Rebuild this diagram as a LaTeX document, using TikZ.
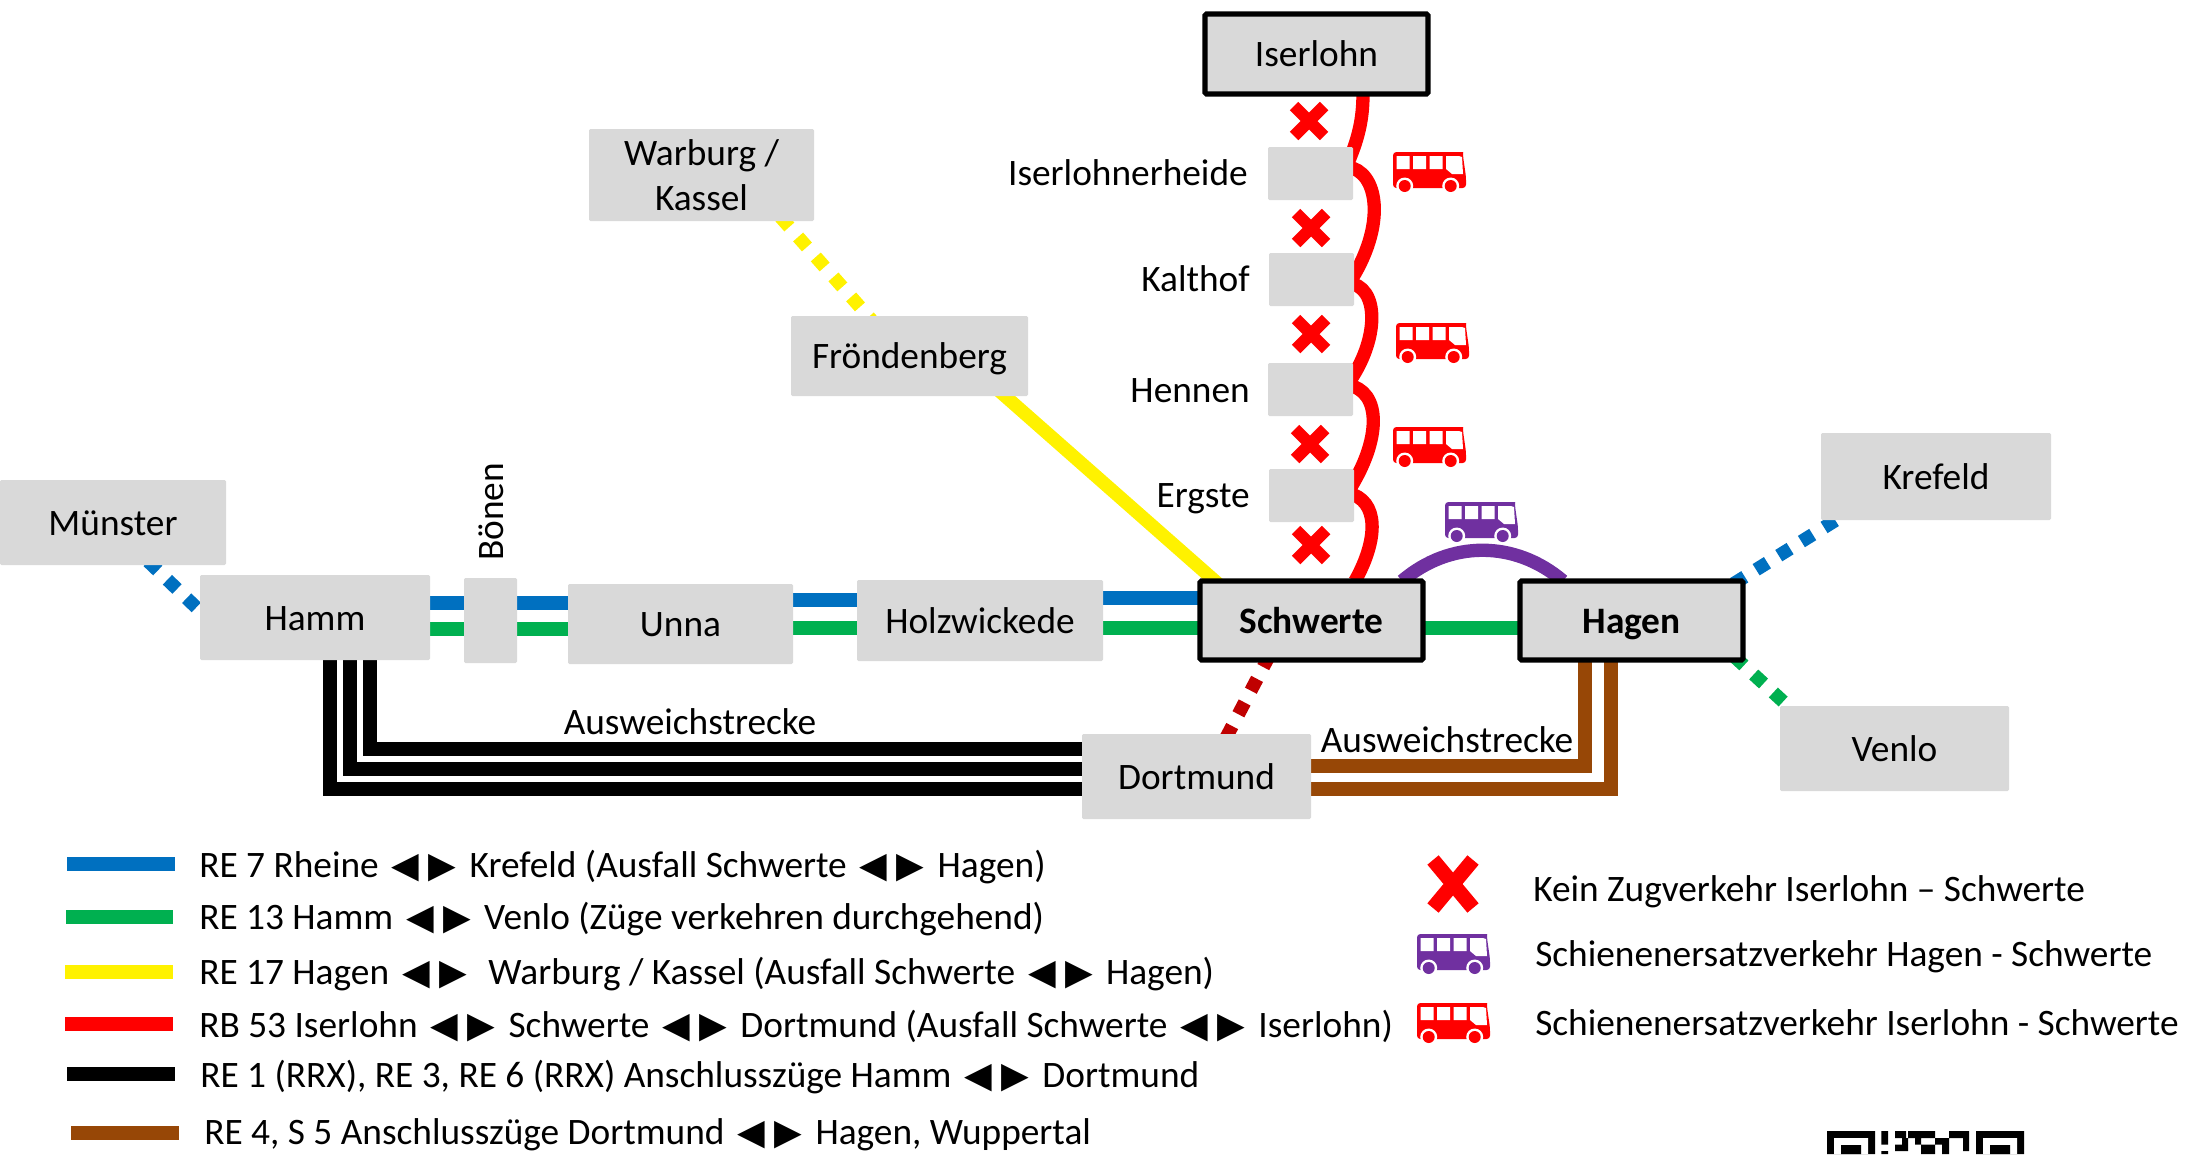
\documentclass[tikz,border=0pt]{standalone}
\usepackage{fontspec}
\setmainfont{Carlito}
\newfontfamily\symf{DejaVu Sans}
\pgfdeclarelayer{bg}
\pgfsetlayers{bg,main}
\definecolor{stgrey}{HTML}{D9D9D9}
\definecolor{lblue}{HTML}{0070C0}
\definecolor{lgreen}{HTML}{00B050}
\definecolor{lpurple}{HTML}{7030A0}
\definecolor{lbrown}{HTML}{974706}
\definecolor{ldred}{HTML}{C00000}
\newcommand{\fs}{\fontsize{28pt}{33.7pt}\selectfont}
\newcommand{\lr}{\hspace{3.5pt}{\symf\fontsize{27pt}{30pt}\selectfont\char"25C0\hspace{7pt}\char"25B6}\hspace{3.5pt}}
\newcommand{\stn}[7]{%
  \pgfmathsetmacro\stw{(#4-#2)*0.75}\pgfmathsetmacro\sth{(#5-#3)*0.75}%
  \node[#1,minimum width=\stw pt,minimum height=\sth pt] (#7) at ({(#2+#4)/2},{(#3+#5)/2}) {#6};}
\tikzset{
  plainbox/.style={fill=stgrey,rounded corners=1pt,inner sep=0pt,outer sep=0pt,align=center,font=\fs},
  box/.style={plainbox,text height=19pt,text depth=0pt},
  mainbox/.style={box,draw=black,line width=3.9pt,rounded corners=1.2pt},
  lab/.style={inner sep=0pt,font=\fs,text height=19pt,text depth=0pt},
  legend/.style={inner sep=0pt,anchor=base west,font=\fs},
  track/.style={line width=10pt},
  dotted track/.style={line width=10pt,dash pattern=on 10pt off 10pt,shorten <=-4pt,shorten >=-4pt},
  crossmark/.style={line width=9pt,color=red},
  pics/bus/.style={code={
    \fill[#1,rounded corners=2.5pt] (0,0) -- (67,0) .. controls (69,0) and (70,2) .. (70,4) -- (73,25) -- (73,36) -- (0,36) -- cycle;
    \fill[white] (3.5,4) rectangle (16.5,17) (20,4) rectangle (33,17) (36.5,4) rectangle (49.5,17);
    \fill[white] (53,4) -- (66,4) -- (69,5) -- (70,22) -- (59,22) -- (53,17) -- cycle;
    \fill[white] (11.7,34) circle[radius=8.5] (57.7,34) circle[radius=8.5];
    \fill[#1] (11.7,34) circle[radius=6] (57.7,34) circle[radius=6];
  }},
  pics/cross/.style={code={
    \draw[crossmark] (-15,-15) -- (15,15) (-15,15) -- (15,-15);
  }}
}
\begin{document}
\begin{tikzpicture}[x=0.75pt,y=-0.75pt]
\useasboundingbox (0,0) rectangle (2192,1154);

% stations
\stn{mainbox}{1205}{14}{1428}{94}{Iserlohn}{iser}
\stn{box}{1268}{147}{1353}{200}{}{ih}
\stn{box}{1269}{253}{1354}{306}{}{kh}
\stn{box}{1268}{363}{1353}{416}{}{he}
\stn{box}{1269}{469}{1354}{522}{}{er}
\stn{mainbox}{1200}{581}{1423}{660}{\textbf{Schwerte}}{sch}
\stn{mainbox}{1520}{581}{1743}{660}{\textbf{Hagen}}{hag}
\stn{box}{1821}{433}{2051}{520}{Krefeld}{kre}
\stn{box}{1780}{706}{2009}{791}{Venlo}{ven}
\stn{box}{1082}{734}{1311}{819}{Dortmund}{dor}
\stn{box}{200}{575}{430}{660}{Hamm}{ham}
\stn{box}{464}{578}{517}{663}{}{boe}
\stn{box}{568}{584}{793}{664}{Unna}{unn}
\stn{box}{857}{580}{1103}{661}{Holzwickede}{hol}
\stn{box}{791}{316}{1028}{396}{Fröndenberg}{fro}
\stn{plainbox}{589}{129}{814}{221}{\raisebox{-1pt}{Warburg /}\\\raisebox{-1pt}{Kassel}}{war}
\stn{box}{0}{480}{226}{565}{Münster}{mue}

% station labels
\node[lab,anchor=east] (lih) at (1248,173) {Iserlohnerheide};
\node[lab,anchor=east] (lkh) at (1250,279) {Kalthof};
\node[lab,anchor=east] (lhe) at (1250,390) {Hennen};
\node[lab,anchor=east] (ler) at (1250,495) {Ergste};
\node[lab,rotate=90] (lboe) at (491,512) {Bönen};
\node[lab] (aw1) at (690,722) {Ausweichstrecke};
\node[lab] (aw2) at (1447,740) {Ausweichstrecke};

% connectors
\begin{pgfonlayer}{bg}
\draw[track,lblue] (ham.east |- 0,603) -- (boe.west |- 0,603);
\draw[track,lblue] (boe.east |- 0,603) -- (unn.west |- 0,603);
\draw[track,lblue] (unn.east |- 0,600) -- (hol.west |- 0,600);
\draw[track,lblue] (hol.east |- 0,598) -- (sch.west |- 0,598);
\draw[track,lgreen] (ham.east |- 0,629) -- (boe.west |- 0,629);
\draw[track,lgreen] (boe.east |- 0,629) -- (unn.west |- 0,629);
\draw[track,lgreen] (unn.east |- 0,628) -- (hol.west |- 0,628);
\draw[track,lgreen] (hol.east |- 0,628) -- (sch.west |- 0,628);
\draw[track,lgreen] (sch.east |- 0,628) -- (hag.west |- 0,628);
\draw[track,black] (ham.south -| 330,0) |- (dor.west |- 0,789);
\draw[track,black] (ham.south -| 350,0) |- (dor.west |- 0,769);
\draw[track,black] (ham.south -| 370,0) |- (dor.west |- 0,749);
\draw[track,lbrown] (hag.south -| 1585,0) |- (dor.east |- 0,766);
\draw[track,lbrown] (hag.south -| 1611,0) |- (dor.east |- 0,789);
\draw[track,yellow,shorten <=-6pt,shorten >=-6pt] (fro.south -| 1005,0) -- (sch.north -| 1215,0);
\draw[dotted track,yellow] (war.south -| 784,0) -- (fro.north -| 868,0);
\draw[dotted track,lblue] (mue.south -| 152,0) -- (ham.west |- 0,611);
\draw[dotted track,lblue] (hag.north -| 1738,0) -- (kre.south -| 1836,0);
\draw[dotted track,lgreen] (hag.south -| 1738,0) -- (ven.north -| 1788,0);
\draw[dotted track,ldred] (sch.south -| 1267,0) -- (dor.north -| 1228,0);
\draw[track,lpurple] (sch.north -| 1402,0) .. controls (1450,540) and (1515,540) .. (hag.north -| 1563,0);
\draw[track,red] (iser.south -| 1363,0) .. controls (1363,120) and (1358,140) .. ([xshift=-4.5pt,yshift=6.4pt]ih.east);
\draw[track,red] ([xshift=-4.5pt,yshift=4.9pt]ih.east) .. controls (1378,170) and (1388,225) .. ([xshift=-4.5pt,yshift=-4pt]kh.east);
\draw[track,red] ([xshift=-5pt,yshift=-2.6pt]kh.east) .. controls (1380,285) and (1380,340) .. ([xshift=-4.5pt,yshift=3.4pt]he.east);
\draw[track,red] ([xshift=-4.5pt,yshift=3.4pt]he.east) .. controls (1382,390) and (1382,440) .. ([xshift=-5pt,yshift=2pt]er.east);
\draw[track,red] ([xshift=-5pt,yshift=2pt]er.east) .. controls (1380,500) and (1378,540) .. (sch.north -| 1355,0);
\end{pgfonlayer}

% crosses
\pic at (1309,121) {cross};
\pic at (1311,228) {cross};
\pic at (1311,334) {cross};
\pic at (1310,444) {cross};
\pic at (1311,545) {cross};

% buses
\pic at (1393,152) {bus=red};
\pic at (1396,323) {bus=red};
\pic at (1393,427) {bus=red};
\pic at (1445,502) {bus=lpurple};

% legend swatches
\coordinate (s1a) at (67,864);  \coordinate (s1b) at (175,864);
\coordinate (s2a) at (66,917);  \coordinate (s2b) at (173,917);
\coordinate (s3a) at (65,972);  \coordinate (s3b) at (173,972);
\coordinate (s4a) at (65,1024); \coordinate (s4b) at (173,1024);
\coordinate (s5a) at (67,1074); \coordinate (s5b) at (175,1074);
\coordinate (s6a) at (71,1133); \coordinate (s6b) at (179,1133);
\draw[track,lblue] (s1a) -- (s1b);
\draw[track,lgreen] (s2a) -- (s2b);
\draw[track,yellow] (s3a) -- (s3b);
\draw[track,red] (s4a) -- (s4b);
\draw[track,black] (s5a) -- (s5b);
\draw[track,lbrown] (s6a) -- (s6b);

% legend text
\node[legend] (t1) at (199,877) {RE 7 Rheine \lr{} Krefeld (Ausfall Schwerte \lr{} Hagen)};
\node[legend] (t2) at (199,929) {RE 13 Hamm \lr{} Venlo (Züge verkehren durchgehend)};
\node[legend] (t3) at (199,984) {RE 17 Hagen \lr{}\ \ Warburg / Kassel (Ausfall Schwerte \lr{} Hagen)};
\node[legend] (t4) at (199,1037) {RB 53 Iserlohn \lr{} Schwerte \lr{} Dortmund (Ausfall Schwerte \lr{} Iserlohn)};
\node[legend] (t5) at (200,1087) {RE 1 (RRX), RE 3, RE 6 (RRX) Anschlusszüge Hamm \lr{} Dortmund};
\node[legend] (t6) at (204,1144) {RE 4, S 5 Anschlusszüge Dortmund \lr{} Hagen, Wuppertal};

\draw[line width=11pt,red] (1433,860) -- (1473,908) (1433,908) -- (1473,860);
\pic at (1417,934) {bus=lpurple};
\pic at (1417,1003) {bus=red};
\node[legend] (t7) at (1533,901) {Kein Zugverkehr Iserlohn – Schwerte};
\node[legend] (t8) at (1535,966) {Schienenersatzverkehr Hagen - Schwerte};
\node[legend] (t9) at (1535,1035) {Schienenersatzverkehr Iserlohn - Schwerte};

% QR code, cut by the lower edge
\fill[black] (1827,1131) rectangle (1875,1154) (1976,1131) rectangle (2024,1154);
\fill[white] (1834,1138) rectangle (1868,1154) (1983,1138) rectangle (2017,1154);
\fill[black] (1841,1145) rectangle (1861,1154) (1990,1145) rectangle (2010,1154);
\fill[black]
 (1881.4,1131) rectangle (1888,1144.6)
 (1895,1131) rectangle (1906,1138)
 (1908,1131) rectangle (1935,1138)
 (1949,1131) rectangle (1969,1138)
 (1902,1138) rectangle (1908,1151)
 (1915,1138) rectangle (1921,1144.6)
 (1935,1138) rectangle (1949,1144.6)
 (1963,1138) rectangle (1969,1151)
 (1895,1144.6) rectangle (1908,1151)
 (1921,1144.6) rectangle (1935,1151)
 (1942,1144.6) rectangle (1949,1151)
 (1881.4,1151) rectangle (1888,1154)
 (1921,1151) rectangle (1935,1154)
 (1942,1151) rectangle (1949,1154);
\end{tikzpicture}
\end{document}
